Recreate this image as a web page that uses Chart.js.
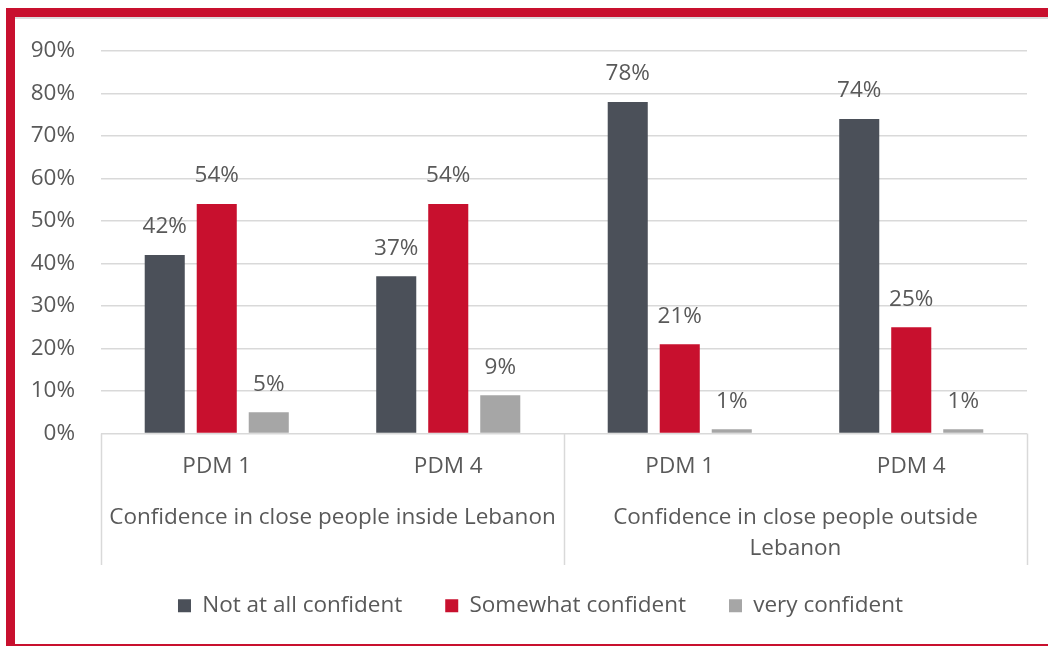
<!DOCTYPE html>
<html>
<head>
<meta charset="utf-8">
<script src="https://cdn.jsdelivr.net/npm/chart.js@4.4.1/dist/chart.umd.min.js"></script>
<style>
  html, body { margin: 0; padding: 0; background: #ffffff; }
  #wrap { position: absolute; left: 0; top: 0; width: 1048px; height: 648px; }
  #frame { position: absolute; left: 6px; top: 8px; width: 1042px; height: 638px;
           border-left: 9px solid #c8102e; border-top: 9px solid #c8102e; border-bottom: 2px solid #c8102e;
           box-sizing: border-box; pointer-events: none; }
  #shadow { position: absolute; left: 15px; top: 17px; width: 1033px; height: 2px; background: #dcdcdc; }
  canvas { position: absolute; left: 0; top: 0; }
</style>
</head>
<body>
<div id="wrap">
  <canvas id="c" width="1048" height="648"></canvas>
  <div id="shadow"></div>
  <div id="frame"></div>
</div>
<script>
const categories = ['PDM 1', 'PDM 4', 'PDM 1', 'PDM 4'];
const groupLabels = [['Confidence in close people inside Lebanon'], ['Confidence in close people outside', 'Lebanon']];
const seriesNames = ['Not at all confident', 'Somewhat confident', 'very confident'];
const notAtAll = [42, 37, 78, 74];
const somewhat = [54, 54, 21, 25];
const very = [5, 9, 1, 1];
const yTicks = [0, 10, 20, 30, 40, 50, 60, 70, 80, 90];

const colors = ['#4b5059', '#c8102e', '#a6a6a6'];
const textColor = '#595959';
const gridColor = '#d9d9d9';
const FONT = '"Open Sans"';
const FS = 22.5;

const dataLabelPlugin = {
  id: 'dataLabels',
  afterDatasetsDraw(chart) {
    const ctx = chart.ctx;
    ctx.save();
    ctx.font = FS + 'px ' + FONT;
    ctx.fillStyle = textColor;
    ctx.textAlign = 'center';
    ctx.textBaseline = 'middle';
    chart.data.datasets.forEach((ds, i) => {
      const meta = chart.getDatasetMeta(i);
      meta.data.forEach((bar, j) => {
        ctx.fillText(ds.data[j] + '%', bar.x, bar.y - 28);
      });
    });
    ctx.restore();
  }
};

const groupAxisPlugin = {
  id: 'groupAxis',
  afterLayout(chart) {
    // centre the legend under the whole frame, as in the original
    if (chart.legend) {
      chart.legend.left += 27;
      chart.legend.right += 27;
    }
  },
  afterDraw(chart) {
    const ctx = chart.ctx;
    const x = chart.scales.x;
    const area = chart.chartArea;
    const n = categories.length;
    const step = (area.right - area.left) / n;
    const bottom = 565;
    ctx.save();
    ctx.strokeStyle = gridColor;
    ctx.lineWidth = 1.5;
    [0, 2, 4].forEach(k => {
      const xx = Math.round(area.left + k * step) + 0.5;
      ctx.beginPath();
      ctx.moveTo(xx, area.bottom);
      ctx.lineTo(xx, bottom);
      ctx.stroke();
    });
    ctx.font = FS + 'px ' + FONT;
    ctx.fillStyle = textColor;
    ctx.textAlign = 'center';
    ctx.textBaseline = 'middle';
    groupLabels.forEach((lines, g) => {
      const cx = (x.getPixelForValue(g * 2) + x.getPixelForValue(g * 2 + 1)) / 2;
      lines.forEach((t, li) => {
        ctx.fillText(t, cx, 518 + li * 31);
      });
    });
    ctx.restore();
  }
};

const datasets = [notAtAll, somewhat, very].map((d, i) => ({
  label: seriesNames[i],
  data: d,
  backgroundColor: colors[i],
  borderWidth: 0,
  categoryPercentage: 0.674,
  barPercentage: 0.77
}));

new Chart(document.getElementById('c'), {
  type: 'bar',
  data: { labels: categories, datasets },
  plugins: [dataLabelPlugin, groupAxisPlugin],
  options: {
    responsive: false,
    animation: false,
    events: [],
    layout: { padding: { top: 51, right: 21, left: 0, bottom: 21 } },
    plugins: {
      tooltip: { enabled: false },
      legend: {
        position: 'bottom',
        labels: {
          boxWidth: 13, boxHeight: 13, padding: 43,
          color: textColor,
          font: { family: 'Open Sans', size: FS }
        }
      }
    },
    scales: {
      y: {
        min: 0, max: 90,
        afterFit(s) { s.width = 101; },
        afterBuildTicks(s) { s.ticks = yTicks.map(v => ({ value: v })); },
        border: { display: false },
        grid: { color: gridColor, lineWidth: 1.5, drawTicks: false },
        ticks: {
          padding: 26, color: textColor,
          font: { family: 'Open Sans', size: FS },
          callback: v => v + '%'
        }
      },
      x: {
        afterFit(s) { s.height = 118; },
        border: { display: false },
        grid: { display: false, drawTicks: false },
        ticks: {
          padding: 20, color: textColor,
          font: { family: 'Open Sans', size: FS },
          maxRotation: 0
        }
      }
    }
  }
});
</script>
</body>
</html>
